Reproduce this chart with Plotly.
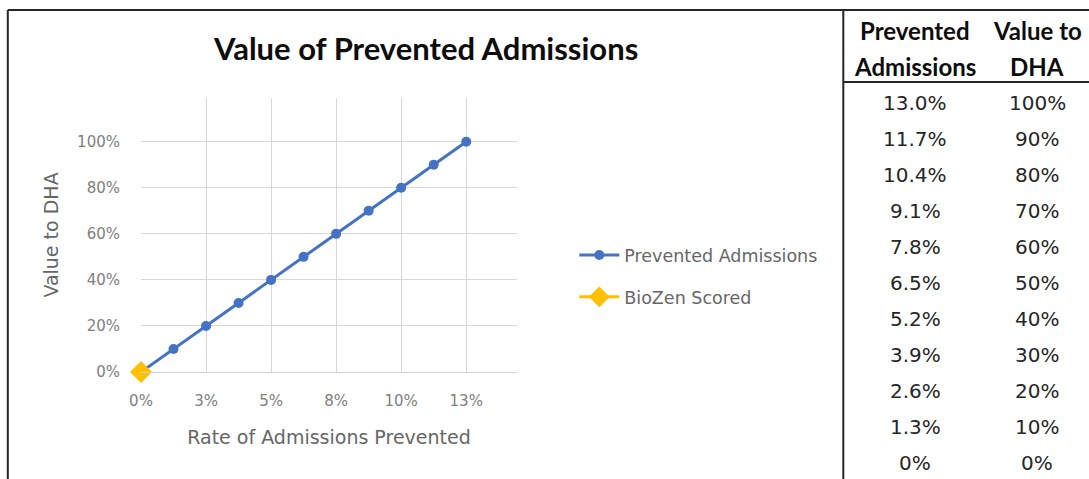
import plotly.graph_objects as go

# Rate of admissions prevented vs. value to DHA
prevented = [0.0, 0.013, 0.026, 0.039, 0.052, 0.065, 0.078, 0.091, 0.104, 0.117, 0.130]
value = [0.0, 0.10, 0.20, 0.30, 0.40, 0.50, 0.60, 0.70, 0.80, 0.90, 1.00]
biozen_x = [0.0]
biozen_y = [0.0]

# Side table text
table_headers = [["Prevented", "Admissions"], ["Value to", "DHA"]]
table_prevented = ["13.0%", "11.7%", "10.4%", "9.1%", "7.8%", "6.5%", "5.2%", "3.9%", "2.6%", "1.3%", "0%"]
table_value = ["100%", "90%", "80%", "70%", "60%", "50%", "40%", "30%", "20%", "10%", "0%"]

W, H = 1089, 479
PL, PR, PT, PB = 140.7, 516.7, 98.0, 371.7


def px(x):
    return (x - PL) / (PR - PL)


def py(y):
    return (PB - y) / (PB - PT)


fig = go.Figure()
fig.add_trace(go.Scatter(
    x=prevented, y=value, mode="lines+markers", name="Prevented Admissions",
    legendgroup="a",
    line=dict(color="#4472C4", width=3),
    marker=dict(color="#4472C4", size=10),
))
fig.add_trace(go.Scatter(
    x=biozen_x, y=biozen_y, mode="lines+markers", name="BioZen Scored",
    legendgroup="b",
    line=dict(color="#FFC000", width=3),
    marker=dict(color="#FFC000", size=17, symbol="diamond"),
    cliponaxis=False,
))

axis_family = "DejaVu Sans, sans-serif"
tick_font = dict(family=axis_family, size=15, color="#808080")
title_font = dict(family=axis_family, size=19, color="#666666")

fig.update_xaxes(
    range=[0, 0.1503], tick0=0, dtick=0.026, tickformat=".0%",
    showgrid=True, gridcolor="#D9D9D9", gridwidth=1,
    showline=True, linecolor="#D0D0D0", linewidth=1,
    zeroline=False, ticks="", tickfont=tick_font, ticklabelstandoff=15,
    title=dict(text="Rate of Admissions Prevented", standoff=21, font=title_font),
)
fig.update_yaxes(
    range=[0, 1.19], tickvals=[0, 0.2, 0.4, 0.6, 0.8, 1.0], tickformat=".0%",
    showgrid=True, gridcolor="#D9D9D9", gridwidth=1,
    showline=False, zeroline=False, ticks="", tickfont=tick_font, ticklabelstandoff=20,
    title=dict(text="Value to DHA", standoff=13, font=title_font),
)

shapes = []
line_dark = dict(color="#262626", width=2)
# Chart frame
shapes.append(dict(type="line", xref="paper", yref="paper",
                   x0=px(7.5), x1=px(7.5), y0=py(10), y1=py(H + 5), line=line_dark))
shapes.append(dict(type="line", xref="paper", yref="paper",
                   x0=px(7.5), x1=px(W + 5), y0=py(10), y1=py(10), line=line_dark))
# Table frame
shapes.append(dict(type="line", xref="paper", yref="paper",
                   x0=px(843), x1=px(843), y0=py(10), y1=py(H + 5), line=line_dark))
shapes.append(dict(type="line", xref="paper", yref="paper",
                   x0=px(843), x1=px(W + 5), y0=py(82), y1=py(82), line=line_dark))

annotations = [
    dict(text="<b>Value of Prevented Admissions</b>", xref="paper", yref="paper",
         x=px(425), y=py(48), showarrow=False, xanchor="center", yanchor="middle",
         font=dict(family="Lato, sans-serif", size=31, color="#0D0D0D")),
]

table_font = dict(family="DejaVu Sans, sans-serif", size=20, color="#262626")
head_font = dict(family="Lato, sans-serif", size=24, color="#0D0D0D")
col_x = [915, 1037]
for cx, head in zip(col_x, table_headers):
    for j, part in enumerate(head):
        annotations.append(dict(text="<b>" + part + "</b>", xref="paper", yref="paper",
                                x=px(cx), y=py(31 + 36 * j), showarrow=False,
                                xanchor="center", yanchor="middle", font=head_font))
for i, (a, b) in enumerate(zip(table_prevented, table_value)):
    yy = 103 + 36 * i
    for cx, t in zip(col_x, (a, b)):
        annotations.append(dict(text=t, xref="paper", yref="paper",
                                x=px(cx), y=py(yy), showarrow=False, xanchor="center",
                                yanchor="middle", font=table_font))

fig.update_layout(
    width=W, height=H,
    margin=dict(l=PL, r=W - PR, t=PT, b=H - PB, autoexpand=False),
    paper_bgcolor="white", plot_bgcolor="white",
    showlegend=True,
    legend=dict(x=px(574), y=py(237), xanchor="left", yanchor="top",
                traceorder="grouped", tracegroupgap=16,
                font=dict(family=axis_family, size=17.5, color="#666666"),
                itemwidth=40, bgcolor="rgba(0,0,0,0)"),
    shapes=shapes,
    annotations=annotations,
)

fig.write_html("out.html")
